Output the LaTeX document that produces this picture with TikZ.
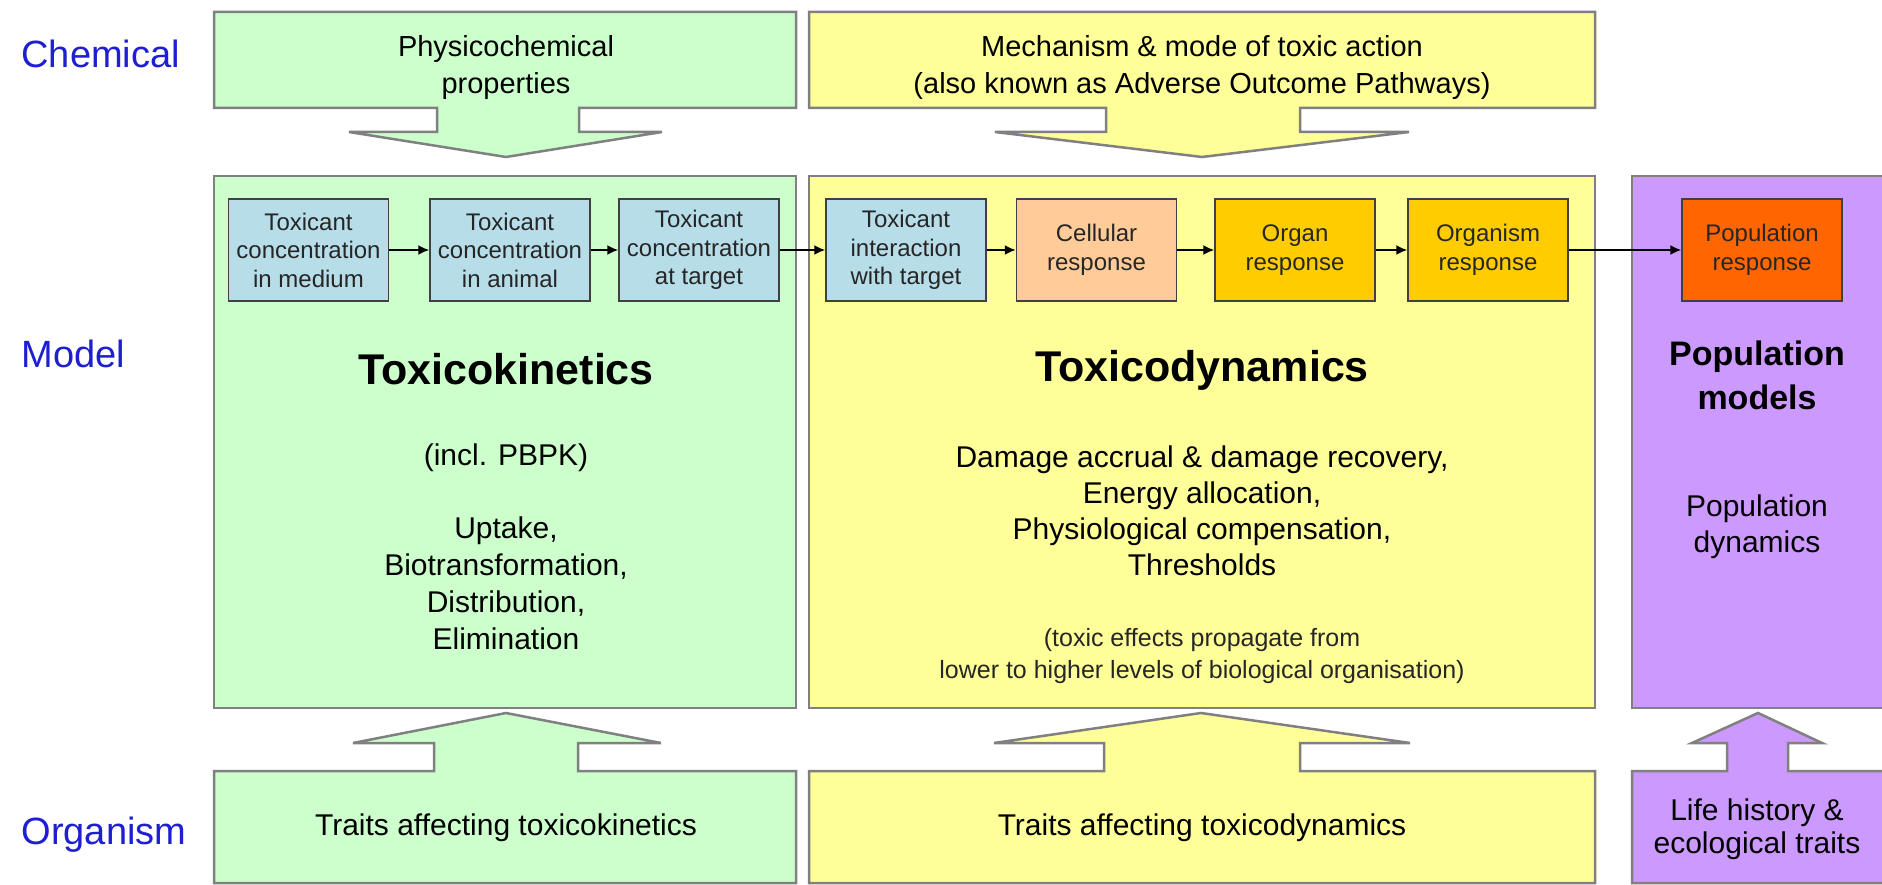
\documentclass[tikz,border=0pt]{standalone}
\usepackage{fontspec}
\setmainfont{Liberation Sans}
\usetikzlibrary{arrows.meta}
\definecolor{gfill}{RGB}{204,255,204}
\definecolor{yfill}{RGB}{255,255,153}
\definecolor{pfill}{RGB}{204,153,255}
\definecolor{bfill}{RGB}{183,221,232}
\definecolor{peach}{RGB}{255,204,153}
\definecolor{gold}{RGB}{255,204,0}
\definecolor{orng}{RGB}{255,102,0}
\definecolor{edge}{RGB}{128,128,128}
\definecolor{lbl}{RGB}{30,30,210}
\begin{document}
\begin{tikzpicture}[x=1pt,y=-1pt,
  panel/.style={draw=edge,line width=2.5pt,line join=miter},
  stage/.style={draw=black!75,line width=1.5pt,minimum width=160pt,minimum height=102pt,inner sep=0pt,align=center,font=\fontsize{24}{28.5}\selectfont,text=black!85},
  flow/.style={line width=1.7pt,-{Latex[length=11pt,width=10pt]}},
  rowlabel/.style={anchor=west,text=lbl,font=\fontsize{38}{44}\selectfont},
  body/.style={align=center,font=\fontsize{30}{36}\selectfont},
  note/.style={align=center,font=\fontsize{25}{32}\selectfont,text=black!85},
  title/.style={align=center,font=\bfseries\fontsize{43}{50}\selectfont},
]
\useasboundingbox (0,0) rectangle (1882,885);
\fill[white] (0,0) rectangle (1882,885);

% model panels
\draw[panel,fill=gfill] (214,176) rectangle (796,708);
\draw[panel,fill=yfill] (809,176) rectangle (1595,708);
\draw[panel,fill=pfill] (1632,176) rectangle (1895,708);

% top panels with down arrows
\draw[panel,fill=gfill] (214,12) -- (796,12) -- (796,108) -- (579,108) -- (579,132) -- (662,132)
  -- (506,157) -- (349,132) -- (437,132) -- (437,108) -- (214,108) -- cycle;
\draw[panel,fill=yfill] (809,12) -- (1595,12) -- (1595,108) -- (1300,108) -- (1300,132) -- (1409,132)
  -- (1202,157) -- (995,132) -- (1106,132) -- (1106,108) -- (809,108) -- cycle;

% bottom panels with up arrows
\draw[panel,fill=gfill] (214,883) -- (796,883) -- (796,771) -- (578,771) -- (578,743) -- (661,743)
  -- (506,713) -- (353,743) -- (434,743) -- (434,771) -- (214,771) -- cycle;
\draw[panel,fill=yfill] (809,883) -- (1595,883) -- (1595,771) -- (1300,771) -- (1300,743) -- (1410,743)
  -- (1201,713) -- (994,743) -- (1104,743) -- (1104,771) -- (809,771) -- cycle;
\draw[panel,fill=pfill] (1632,883) -- (1895,883) -- (1895,771) -- (1788,771) -- (1788,743) -- (1822,743)
  -- (1758,713) -- (1692,743) -- (1727,743) -- (1727,771) -- (1632,771) -- cycle;

% row labels
\node[rowlabel] (lchem) at (18,54) {Chemical};
\node[rowlabel] (lmodel) at (18,354) {Model};
\node[rowlabel] (lorg) at (18,835) {Organism};

% top texts
\node[body,font=\fontsize{29}{37}\selectfont] (phys) at (506,68) {Physicochemical\\properties};
\node[body,font=\fontsize{29}{37}\selectfont] (mech) at (1202,68) {Mechanism \& mode of toxic action\\(also known as Adverse Outcome Pathways)};

% chain of stages
\node[stage,fill=bfill] (s1) at (308.5,250) {Toxicant\\concentration\\in medium};
\node[stage,fill=bfill] (s2) at (510,250) {Toxicant\\concentration\\in animal};
\node[stage,fill=bfill] (s3) at (699,250) {Toxicant\\concentration\\at target};
\node[stage,fill=bfill] (s4) at (906,250) {Toxicant\\interaction\\with target};
\node[stage,fill=peach] (s5) at (1096.5,250) {Cellular\\response};
\node[stage,fill=gold] (s6) at (1295,250) {Organ\\response};
\node[stage,fill=gold] (s7) at (1488,250) {Organism\\response};
\node[stage,fill=orng] (s8) at (1762,250) {Population\\response};
\draw[flow] (s1) -- (s2);
\draw[flow] (s2) -- (s3);
\draw[flow] (s3) -- (s4);
\draw[flow] (s4) -- (s5);
\draw[flow] (s5) -- (s6);
\draw[flow] (s6) -- (s7);
\draw[flow] (s7) -- (s8);

% toxicokinetics
\node[title] (tk) at (506,369) {Toxicokinetics};
\node[body] (pbpk) at (506,458) {(incl. PBPK)};
\node[body,font=\fontsize{30}{37}\selectfont] (tklist) at (506,583) {Uptake,\\Biotransformation,\\Distribution,\\Elimination};

% toxicodynamics
\node[title] (td) at (1202,370) {Toxicodynamics};
\node[body] (tdlist) at (1202,511) {Damage accrual \& damage recovery,\\Energy allocation,\\Physiological compensation,\\Thresholds};
\node[note] (tdnote) at (1202,656) {(toxic effects propagate from\\lower to higher levels of biological organisation)};

% population
\node[align=center,font=\bfseries\fontsize{34}{44}\selectfont] (pm) at (1757,375) {Population\\models};
\node[body] (pd) at (1757,527) {Population\\dynamics};

% bottom texts
\node[body] (ttk) at (506,828) {Traits affecting toxicokinetics};
\node[body] (ttd) at (1202,828) {Traits affecting toxicodynamics};
\node[body,font=\fontsize{30}{33}\selectfont] (lh) at (1757,829) {Life history \&\\ecological traits};
\end{tikzpicture}
\end{document}
